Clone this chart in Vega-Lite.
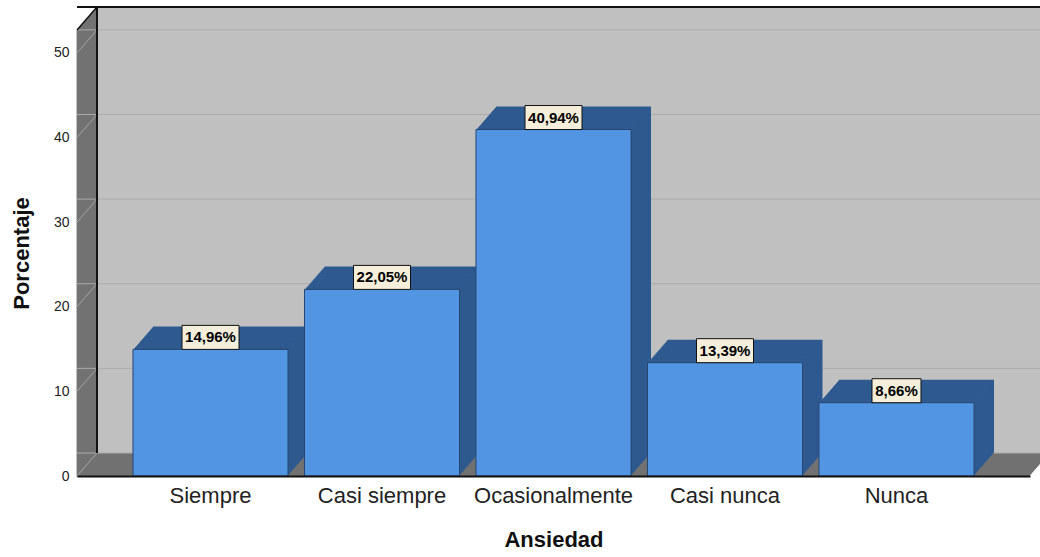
{
  "$schema": "https://vega.github.io/schema/vega-lite/v6.json",
  "width": 953,
  "height": 446,
  "autosize": {"type": "none"},
  "padding": {"left": 77, "top": 30, "right": 10, "bottom": 81},
  "background": "#ffffff",
  "config": {
    "font": "Liberation Sans",
    "view": {"stroke": null}
  },
  "datasets": {
    "ansiedad": [
      {"categoria": "Siempre", "porcentaje": 14.96},
      {"categoria": "Casi siempre", "porcentaje": 22.05},
      {"categoria": "Ocasionalmente", "porcentaje": 40.94},
      {"categoria": "Casi nunca", "porcentaje": 13.39},
      {"categoria": "Nunca", "porcentaje": 8.66}
    ],
    "rejilla": [{"v": 0}, {"v": 10}, {"v": 20}, {"v": 30}, {"v": 40}, {"v": 50}],
    "escala": [{"minimo": 0, "maximo": 52.7}]
  },
  "data": {"name": "ansiedad"},
  "encoding": {
    "x": {
      "field": "categoria",
      "type": "nominal",
      "sort": ["Siempre", "Casi siempre", "Ocasionalmente", "Casi nunca", "Nunca"],
      "scale": {"paddingInner": 0.096, "paddingOuter": 0.3265},
      "axis": {
        "title": "Ansiedad",
        "titleFontSize": 22,
        "titleFontWeight": "bold",
        "titleColor": "#111111",
        "titlePadding": 23,
        "labelAngle": 0,
        "labelFontSize": 22,
        "labelColor": "#222222",
        "labelPadding": 9,
        "ticks": false,
        "domainColor": "#111111",
        "domainWidth": 2
      }
    },
    "y": {
      "field": "porcentaje",
      "type": "quantitative",
      "scale": {"domain": [0, 52.7], "nice": false, "zero": true},
      "axis": {
        "title": "Porcentaje",
        "titleFontSize": 22,
        "titleFontWeight": "bold",
        "titleColor": "#111111",
        "titlePadding": 20,
        "values": [0, 10, 20, 30, 40, 50],
        "labelFontSize": 14,
        "labelColor": "#222222",
        "labelPadding": 8,
        "ticks": false,
        "grid": false,
        "domainColor": "#111111",
        "domainWidth": 1.5
      }
    }
  },
  "layer": [
    {"data": {"name": "escala"}, "mark": {"type": "rect", "fill": "#727272", "xOffset": 0, "x2Offset": 0, "yOffset": 0, "y2Offset": 0}, "encoding": {"x": {"datum": "Siempre", "bandPosition": -0.3612}, "x2": {"datum": "Nunca", "bandPosition": 1.3612}, "y": {"field": "minimo", "type": "quantitative"}, "y2": {"field": "maximo"}}},
    {"data": {"name": "escala"}, "mark": {"type": "rect", "fill": "#727272", "xOffset": 1, "x2Offset": 1, "yOffset": -1.15, "y2Offset": -1.15}, "encoding": {"x": {"datum": "Siempre", "bandPosition": -0.3612}, "x2": {"datum": "Nunca", "bandPosition": 1.3612}, "y": {"field": "minimo", "type": "quantitative"}, "y2": {"field": "maximo"}}},
    {"data": {"name": "escala"}, "mark": {"type": "rect", "fill": "#727272", "xOffset": 2, "x2Offset": 2, "yOffset": -2.3, "y2Offset": -2.3}, "encoding": {"x": {"datum": "Siempre", "bandPosition": -0.3612}, "x2": {"datum": "Nunca", "bandPosition": 1.3612}, "y": {"field": "minimo", "type": "quantitative"}, "y2": {"field": "maximo"}}},
    {"data": {"name": "escala"}, "mark": {"type": "rect", "fill": "#727272", "xOffset": 3, "x2Offset": 3, "yOffset": -3.45, "y2Offset": -3.45}, "encoding": {"x": {"datum": "Siempre", "bandPosition": -0.3612}, "x2": {"datum": "Nunca", "bandPosition": 1.3612}, "y": {"field": "minimo", "type": "quantitative"}, "y2": {"field": "maximo"}}},
    {"data": {"name": "escala"}, "mark": {"type": "rect", "fill": "#727272", "xOffset": 4, "x2Offset": 4, "yOffset": -4.6, "y2Offset": -4.6}, "encoding": {"x": {"datum": "Siempre", "bandPosition": -0.3612}, "x2": {"datum": "Nunca", "bandPosition": 1.3612}, "y": {"field": "minimo", "type": "quantitative"}, "y2": {"field": "maximo"}}},
    {"data": {"name": "escala"}, "mark": {"type": "rect", "fill": "#727272", "xOffset": 5, "x2Offset": 5, "yOffset": -5.75, "y2Offset": -5.75}, "encoding": {"x": {"datum": "Siempre", "bandPosition": -0.3612}, "x2": {"datum": "Nunca", "bandPosition": 1.3612}, "y": {"field": "minimo", "type": "quantitative"}, "y2": {"field": "maximo"}}},
    {"data": {"name": "escala"}, "mark": {"type": "rect", "fill": "#727272", "xOffset": 6, "x2Offset": 6, "yOffset": -6.9, "y2Offset": -6.9}, "encoding": {"x": {"datum": "Siempre", "bandPosition": -0.3612}, "x2": {"datum": "Nunca", "bandPosition": 1.3612}, "y": {"field": "minimo", "type": "quantitative"}, "y2": {"field": "maximo"}}},
    {"data": {"name": "escala"}, "mark": {"type": "rect", "fill": "#727272", "xOffset": 7, "x2Offset": 7, "yOffset": -8.05, "y2Offset": -8.05}, "encoding": {"x": {"datum": "Siempre", "bandPosition": -0.3612}, "x2": {"datum": "Nunca", "bandPosition": 1.3612}, "y": {"field": "minimo", "type": "quantitative"}, "y2": {"field": "maximo"}}},
    {"data": {"name": "escala"}, "mark": {"type": "rect", "fill": "#727272", "xOffset": 8, "x2Offset": 8, "yOffset": -9.2, "y2Offset": -9.2}, "encoding": {"x": {"datum": "Siempre", "bandPosition": -0.3612}, "x2": {"datum": "Nunca", "bandPosition": 1.3612}, "y": {"field": "minimo", "type": "quantitative"}, "y2": {"field": "maximo"}}},
    {"data": {"name": "escala"}, "mark": {"type": "rect", "fill": "#727272", "xOffset": 9, "x2Offset": 9, "yOffset": -10.35, "y2Offset": -10.35}, "encoding": {"x": {"datum": "Siempre", "bandPosition": -0.3612}, "x2": {"datum": "Nunca", "bandPosition": 1.3612}, "y": {"field": "minimo", "type": "quantitative"}, "y2": {"field": "maximo"}}},
    {"data": {"name": "escala"}, "mark": {"type": "rect", "fill": "#727272", "xOffset": 10, "x2Offset": 10, "yOffset": -11.5, "y2Offset": -11.5}, "encoding": {"x": {"datum": "Siempre", "bandPosition": -0.3612}, "x2": {"datum": "Nunca", "bandPosition": 1.3612}, "y": {"field": "minimo", "type": "quantitative"}, "y2": {"field": "maximo"}}},
    {"data": {"name": "escala"}, "mark": {"type": "rect", "fill": "#727272", "xOffset": 11, "x2Offset": 11, "yOffset": -12.65, "y2Offset": -12.65}, "encoding": {"x": {"datum": "Siempre", "bandPosition": -0.3612}, "x2": {"datum": "Nunca", "bandPosition": 1.3612}, "y": {"field": "minimo", "type": "quantitative"}, "y2": {"field": "maximo"}}},
    {"data": {"name": "escala"}, "mark": {"type": "rect", "fill": "#727272", "xOffset": 12, "x2Offset": 12, "yOffset": -13.8, "y2Offset": -13.8}, "encoding": {"x": {"datum": "Siempre", "bandPosition": -0.3612}, "x2": {"datum": "Nunca", "bandPosition": 1.3612}, "y": {"field": "minimo", "type": "quantitative"}, "y2": {"field": "maximo"}}},
    {"data": {"name": "escala"}, "mark": {"type": "rect", "fill": "#727272", "xOffset": 13, "x2Offset": 13, "yOffset": -14.95, "y2Offset": -14.95}, "encoding": {"x": {"datum": "Siempre", "bandPosition": -0.3612}, "x2": {"datum": "Nunca", "bandPosition": 1.3612}, "y": {"field": "minimo", "type": "quantitative"}, "y2": {"field": "maximo"}}},
    {"data": {"name": "escala"}, "mark": {"type": "rect", "fill": "#727272", "xOffset": 14, "x2Offset": 14, "yOffset": -16.1, "y2Offset": -16.1}, "encoding": {"x": {"datum": "Siempre", "bandPosition": -0.3612}, "x2": {"datum": "Nunca", "bandPosition": 1.3612}, "y": {"field": "minimo", "type": "quantitative"}, "y2": {"field": "maximo"}}},
    {"data": {"name": "escala"}, "mark": {"type": "rect", "fill": "#727272", "xOffset": 15, "x2Offset": 15, "yOffset": -17.25, "y2Offset": -17.25}, "encoding": {"x": {"datum": "Siempre", "bandPosition": -0.3612}, "x2": {"datum": "Nunca", "bandPosition": 1.3612}, "y": {"field": "minimo", "type": "quantitative"}, "y2": {"field": "maximo"}}},
    {"data": {"name": "escala"}, "mark": {"type": "rect", "fill": "#727272", "xOffset": 16, "x2Offset": 16, "yOffset": -18.4, "y2Offset": -18.4}, "encoding": {"x": {"datum": "Siempre", "bandPosition": -0.3612}, "x2": {"datum": "Nunca", "bandPosition": 1.3612}, "y": {"field": "minimo", "type": "quantitative"}, "y2": {"field": "maximo"}}},
    {"data": {"name": "escala"}, "mark": {"type": "rect", "fill": "#727272", "xOffset": 17, "x2Offset": 17, "yOffset": -19.55, "y2Offset": -19.55}, "encoding": {"x": {"datum": "Siempre", "bandPosition": -0.3612}, "x2": {"datum": "Nunca", "bandPosition": 1.3612}, "y": {"field": "minimo", "type": "quantitative"}, "y2": {"field": "maximo"}}},
    {"data": {"name": "escala"}, "mark": {"type": "rect", "fill": "#727272", "xOffset": 18, "x2Offset": 18, "yOffset": -20.7, "y2Offset": -20.7}, "encoding": {"x": {"datum": "Siempre", "bandPosition": -0.3612}, "x2": {"datum": "Nunca", "bandPosition": 1.3612}, "y": {"field": "minimo", "type": "quantitative"}, "y2": {"field": "maximo"}}},
    {"data": {"name": "escala"}, "mark": {"type": "rect", "fill": "#727272", "xOffset": 19, "x2Offset": 19, "yOffset": -21.85, "y2Offset": -21.85}, "encoding": {"x": {"datum": "Siempre", "bandPosition": -0.3612}, "x2": {"datum": "Nunca", "bandPosition": 1.3612}, "y": {"field": "minimo", "type": "quantitative"}, "y2": {"field": "maximo"}}},
    {"data": {"name": "escala"}, "mark": {"type": "rect", "fill": "#C0C0C0", "xOffset": 20, "x2Offset": 20, "yOffset": -23, "y2Offset": -23}, "encoding": {"x": {"datum": "Siempre", "bandPosition": -0.3612}, "x2": {"datum": "Nunca", "bandPosition": 1.3612}, "y": {"field": "minimo", "type": "quantitative"}, "y2": {"field": "maximo"}}},
    {"data": {"name": "rejilla"}, "mark": {"type": "rule", "stroke": "#ABABAB", "strokeWidth": 1, "xOffset": 20, "x2Offset": 20, "yOffset": -23}, "encoding": {"x": null, "y": {"field": "v", "type": "quantitative"}}},
    {"data": {"name": "rejilla"}, "mark": {"type": "rule", "stroke": "#A4A4A4", "strokeWidth": 1, "x2Offset": 20, "y2Offset": -23}, "encoding": {"x": {"datum": "Siempre", "bandPosition": -0.3612}, "x2": {"datum": "Siempre", "bandPosition": -0.3612}, "y": {"field": "v", "type": "quantitative"}, "y2": {"field": "v"}}},
    {"data": {"name": "escala"}, "mark": {"type": "rule", "stroke": "#111111", "strokeWidth": 2, "xOffset": 20, "x2Offset": 20, "yOffset": -23}, "encoding": {"x": null, "y": {"field": "maximo", "type": "quantitative"}}},
    {"data": {"name": "escala"}, "mark": {"type": "rule", "stroke": "#111111", "strokeWidth": 2, "xOffset": 20, "yOffset": -23, "y2Offset": -23}, "encoding": {"x": {"datum": "Siempre", "bandPosition": -0.3612}, "y": {"field": "minimo", "type": "quantitative"}, "y2": {"field": "maximo"}}},
    {"data": {"name": "escala"}, "mark": {"type": "rule", "stroke": "#111111", "strokeWidth": 1.5, "x2Offset": 20, "y2Offset": -23}, "encoding": {"x": {"datum": "Siempre", "bandPosition": -0.3612}, "x2": {"datum": "Siempre", "bandPosition": -0.3612}, "y": {"field": "maximo", "type": "quantitative"}, "y2": {"field": "maximo"}}},
    {"mark": {"type": "bar", "fill": "#2F5A90", "xOffset": 20, "yOffset": -23, "y2Offset": -23}},
    {"mark": {"type": "bar", "fill": "#2F5A90", "xOffset": 19, "yOffset": -21.85, "y2Offset": -21.85}},
    {"mark": {"type": "bar", "fill": "#2F5A90", "xOffset": 18, "yOffset": -20.7, "y2Offset": -20.7}},
    {"mark": {"type": "bar", "fill": "#2F5A90", "xOffset": 17, "yOffset": -19.55, "y2Offset": -19.55}},
    {"mark": {"type": "bar", "fill": "#2F5A90", "xOffset": 16, "yOffset": -18.4, "y2Offset": -18.4}},
    {"mark": {"type": "bar", "fill": "#2F5A90", "xOffset": 15, "yOffset": -17.25, "y2Offset": -17.25}},
    {"mark": {"type": "bar", "fill": "#2F5A90", "xOffset": 14, "yOffset": -16.1, "y2Offset": -16.1}},
    {"mark": {"type": "bar", "fill": "#2F5A90", "xOffset": 13, "yOffset": -14.95, "y2Offset": -14.95}},
    {"mark": {"type": "bar", "fill": "#2F5A90", "xOffset": 12, "yOffset": -13.8, "y2Offset": -13.8}},
    {"mark": {"type": "bar", "fill": "#2F5A90", "xOffset": 11, "yOffset": -12.65, "y2Offset": -12.65}},
    {"mark": {"type": "bar", "fill": "#2F5A90", "xOffset": 10, "yOffset": -11.5, "y2Offset": -11.5}},
    {"mark": {"type": "bar", "fill": "#2F5A90", "xOffset": 9, "yOffset": -10.35, "y2Offset": -10.35}},
    {"mark": {"type": "bar", "fill": "#2F5A90", "xOffset": 8, "yOffset": -9.2, "y2Offset": -9.2}},
    {"mark": {"type": "bar", "fill": "#2F5A90", "xOffset": 7, "yOffset": -8.05, "y2Offset": -8.05}},
    {"mark": {"type": "bar", "fill": "#2F5A90", "xOffset": 6, "yOffset": -6.9, "y2Offset": -6.9}},
    {"mark": {"type": "bar", "fill": "#2F5A90", "xOffset": 5, "yOffset": -5.75, "y2Offset": -5.75}},
    {"mark": {"type": "bar", "fill": "#2F5A90", "xOffset": 4, "yOffset": -4.6, "y2Offset": -4.6}},
    {"mark": {"type": "bar", "fill": "#2F5A90", "xOffset": 3, "yOffset": -3.45, "y2Offset": -3.45}},
    {"mark": {"type": "bar", "fill": "#2F5A90", "xOffset": 2, "yOffset": -2.3, "y2Offset": -2.3}},
    {"mark": {"type": "bar", "fill": "#2F5A90", "xOffset": 1, "yOffset": -1.15, "y2Offset": -1.15}},
    {"mark": {"type": "bar", "fill": "#5295E2", "stroke": "#27466F", "strokeWidth": 1}},
    {
      "mark": {"type": "bar", "fill": "#F4EEDA", "stroke": "#111111", "strokeWidth": 1, "y2Offset": -24},
      "encoding": {
        "y2": {"field": "porcentaje"},
        "size": {"field": "porcentaje", "type": "quantitative", "scale": {"type": "threshold", "domain": [10], "range": [49, 57]}, "legend": null}
      }
    },
    {
      "transform": [{"calculate": "replace(format(datum.porcentaje, '.2f'), '.', ',') + '%'", "as": "etiqueta"}],
      "mark": {"type": "text", "fontSize": 15, "fontWeight": "bold", "color": "#000000", "baseline": "middle", "align": "center", "yOffset": -12},
      "encoding": {"text": {"field": "etiqueta"}}
    }
  ]
}
